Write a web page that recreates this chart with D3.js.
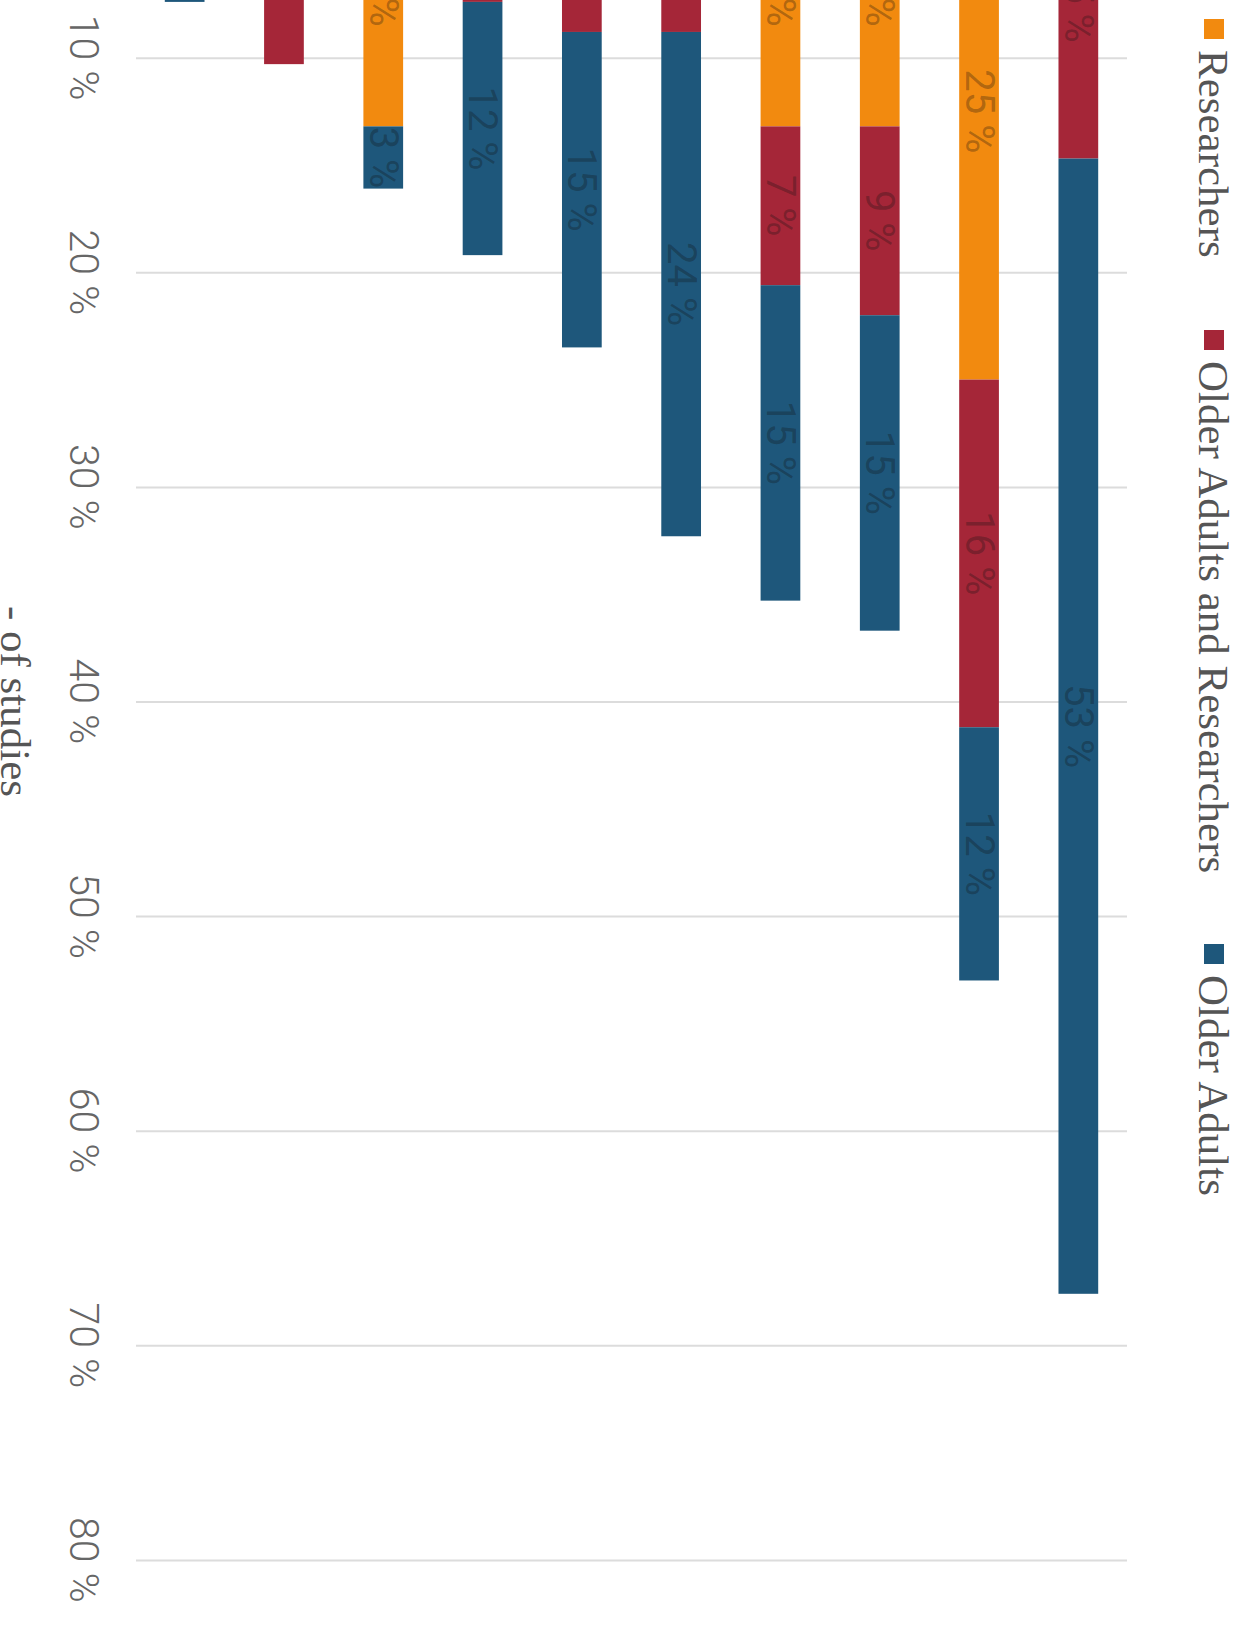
<!DOCTYPE html>
<html lang="en">
<head>
<meta charset="utf-8">
<title>Who took part - % of studies</title>
<script src="https://cdn.jsdelivr.net/npm/d3@7"></script>
<style>
  body { margin: 0; background: #fff; }
  svg { display: block; }
  .grid line { stroke: #dcdcdc; stroke-width: 2; }
  .grid path { display: none; }
  .tick-label { font-family: Roboto, sans-serif; font-size: 41px; font-weight: 300; fill: #666; }
  .bar-label { font-family: Roboto, sans-serif; font-size: 40px; fill: #111; fill-opacity: 0.3; }
  .legend text { font-family: "Liberation Serif", serif; font-size: 43px; fill: #555; }
  .axis-title { font-family: "Liberation Serif", serif; font-size: 43px; fill: #555; }
</style>
</head>
<body>
<script>
// chart is drawn turned a quarter turn clockwise, cropped like the source picture
var w = 1243, h = 1629;

// one entry per study group (their names sit outside the visible crop)
var groups = ["G1", "G2", "G3", "G4", "G5", "G6", "G7", "G8", "G9", "G10"];

// % of studies
var researchers = [0, 0, 13.2, 0, 0, 0, 13.2, 13.2, 25.0, 0];
var bothGroups  = [0, 10.3, 0, 7.4, 8.8, 8.8, 7.4, 8.8, 16.2, 14.7];
var olderAdults = [7.4, 0, 2.9, 11.8, 14.7, 23.5, 14.7, 14.7, 11.8, 52.9];

var seriesNames = ["Researchers", "Older Adults and Researchers", "Older Adults"];
var seriesKeys  = ["researchers", "both", "older"];
var seriesColors = ["#f28a0f", "#a52638", "#1e577b"];
var ticks = [10, 20, 30, 40, 50, 60, 70, 80];

var rows = groups.map(function(g, i) {
  return { group: g, researchers: researchers[i], both: bothGroups[i], older: olderAdults[i] };
});

var svg = d3.select("body").append("svg")
  .attr("width", w)
  .attr("height", h);

// value axis runs down the page
var yScale = d3.scaleLinear()
  .domain([0, 80])
  .range([-156.9, 1559.9]);

var xScale = d3.scaleBand()
  .domain(groups)
  .range([136, 1127])
  .paddingInner(0.6)
  .paddingOuter(0.29);

var color = d3.scaleOrdinal().domain(seriesKeys).range(seriesColors);

// gridlines
svg.append("g")
  .attr("class", "grid")
  .attr("transform", "translate(1127,0) scale(-1,1)")
  .call(d3.axisLeft(yScale).tickValues(ticks).tickSize(-(1127 - 136)).tickFormat(""));

svg.selectAll(".tick-label")
  .data(ticks)
  .enter()
  .append("text")
  .attr("class", "tick-label")
  .attr("text-anchor", "middle")
  .attr("dominant-baseline", "central")
  .attr("transform", function(d) { return "translate(84," + yScale(d) + ") rotate(90)"; })
  .text(function(d) { return d + " %"; });

var stacked = d3.stack().keys(seriesKeys)(rows);

var layer = svg.selectAll(".layer")
  .data(stacked)
  .enter()
  .append("g")
  .attr("class", "layer")
  .attr("fill", function(d) { return color(d.key); });

layer.selectAll("rect")
  .data(function(d) { return d; })
  .enter()
  .append("rect")
  .attr("x", function(d) { return xScale(d.data.group); })
  .attr("y", function(d) { return yScale(d[0]); })
  .attr("width", xScale.bandwidth())
  .attr("height", function(d) { return yScale(d[1]) - yScale(d[0]); });

layer.selectAll("text")
  .data(function(s) {
    return s.filter(function(p) { return p.data[s.key] > 0; })
            .map(function(p) { return { p: p, v: p.data[s.key] }; });
  })
  .enter()
  .append("text")
  .attr("class", "bar-label")
  .attr("text-anchor", "middle")
  .attr("dominant-baseline", "central")
  .attr("transform", function(d) {
    return "translate(" + (xScale(d.p.data.group) + xScale.bandwidth() / 2) + "," + yScale((d.p[0] + d.p[1]) / 2) + ") rotate(90)";
  })
  .text(function(d) { return Math.round(d.v) + " %"; });

// legend
var legendY = [19, 330, 944];
var legend = svg.append("g").attr("class", "legend");
seriesNames.forEach(function(name, i) {
  legend.append("rect")
    .attr("x", 1204)
    .attr("y", legendY[i])
    .attr("width", 20)
    .attr("height", 20)
    .attr("fill", seriesColors[i]);
  legend.append("text")
    .attr("dominant-baseline", "central")
    .attr("transform", "translate(1213," + (legendY[i] + 31) + ") rotate(90)")
    .text(name);
});

svg.append("text")
  .attr("class", "axis-title")
  .attr("text-anchor", "middle")
  .attr("dominant-baseline", "central")
  .attr("transform", "translate(15," + yScale(40) + ") rotate(90)")
  .text("- of studies");
</script>
</body>
</html>
